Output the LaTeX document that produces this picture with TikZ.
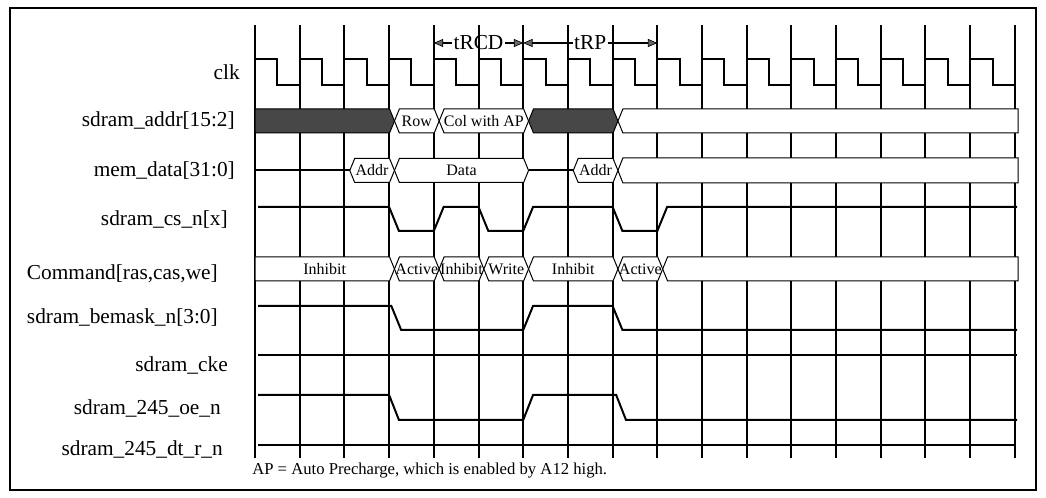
\documentclass[tikz,border=0pt]{standalone}
\usepackage{fontspec}
\setmainfont{Liberation Serif}
\usetikzlibrary{arrows.meta}

\begin{document}
\begin{tikzpicture}[x=33.525pt, y=-0.75pt,
  grid/.style={line width=1.5pt},
  sig/.style={line width=1.5pt, line join=miter},
  bus/.style={draw=black, line width=0.75pt, fill=#1}, bus/.default=white,
  bustext/.style={font=\fontsize{12}{14}\selectfont, inner sep=0pt},
  lbl/.style={anchor=east, font=\fontsize{16}{19}\selectfont, inner sep=0pt},
  dim/.style={line width=1pt, -{Triangle[length=7pt, width=6pt, line width=0.5pt, fill=black!60]}},
  dimtext/.style={font=\fontsize{16}{19}\selectfont, inner sep=1pt}]

\useasboundingbox (-5.705,0) rectangle (17.696,498);
\draw[line width=1.5pt] (-5.481,8) rectangle (17.472,490);

\foreach \i in {0,...,17} {
  \coordinate (gt\i) at (\i,25);
  \coordinate (gb\i) at (\i,458);
  \draw[grid] (gt\i) -- (gb\i);
}

% clk
\draw[sig] (0,59) \foreach \i in {0,...,16} {
  -- ({\i+0.5},59) -- ({\i+0.5},85) -- ({\i+1},85) -- ({\i+1},59)};

% buses
\draw[bus=black!72] (0,109) -- (3.01,109) -- (3.12,121) -- (3.01,133) -- (0,133) -- cycle;
\draw[bus=black!72] (6.12,121) -- (6.23,109) -- (8.01,109) -- (8.12,121) -- (8.01,133) -- (6.23,133) -- cycle;
\draw[bus] (8.12,121) -- (8.23,109) -- (17.07,109) -- (17.07,133) -- (8.23,133) -- cycle;
\draw[sig] (0,170.5) -- (2.12,170.5);
\draw[sig] (6.12,170.5) -- (7.12,170.5);
\draw[bus] (8.12,170.5) -- (8.23,158) -- (17.07,158) -- (17.07,183) -- (8.23,183) -- cycle;
\draw[bus] (0,257) -- (3.01,257) -- (3.12,269) -- (3.01,281) -- (0,281) -- cycle;
\node[bustext] (inha) at (1.56,269) {Inhibit};
\draw[bus] (9.12,269) -- (9.23,257) -- (17.07,257) -- (17.07,281) -- (9.23,281) -- cycle;

\foreach \a/\b/\ym/\t/\nm in {3/4/121/Row/row, 4/6/121/Col with AP/colap,
    2/3/170.5/Addr/addra, 3/6/170.5/Data/data, 7/8/170.5/Addr/addrb,
    3/4/269/Active/acta, 4/5/269/Inhibit/inhb, 5/6/269/Write/write,
    6/8/269/Inhibit/inhc, 8/9/269/Active/actb} {
  \draw[bus] ({\a+.12},\ym) -- ({\a+.23},{\ym-12}) -- ({\b+.01},{\ym-12}) -- ({\b+.12},\ym)
    -- ({\b+.01},{\ym+12}) -- ({\a+.23},{\ym+12}) -- cycle;
  \node[bustext] (\nm) at ({(\a+\b)/2+.12},\ym) {\t};
}

% single lines
\draw[sig] (0.07,207) -- (3,207) -- (3.22,231) -- (4,231) -- (4.22,207) -- (5,207) -- (5.22,231)
  -- (6,231) -- (6.22,207) -- (8,207) -- (8.22,231) -- (9,231) -- (9.22,207) -- (17.05,207);
\draw[sig] (0.07,306) -- (3.05,306) -- (3.27,330) -- (6,330) -- (6.22,306) -- (8,306) -- (8.22,330) -- (17.05,330);
\draw[sig] (0.07,355) -- (17.05,355);
\draw[sig] (0.07,395) -- (3,395) -- (3.22,420) -- (6,420) -- (6.22,395) -- (8.08,395) -- (8.3,420) -- (17.05,420);
\draw[sig] (0.07,445) -- (17,445);

\node[lbl] (clk) at (-0.336,72) {clk};
\node[lbl] (addr) at (-0.447,121) {sdram\_addr[15:2]};
\node[lbl] (memdata) at (-0.447,171) {mem\_data[31:0]};
\node[lbl] (csn) at (-0.604,220) {sdram\_cs\_n[x]};
\node[lbl] (cmd) at (-0.828,274) {Command[ras,cas,we]};
\node[lbl] (bemask) at (-0.828,318) {sdram\_bemask\_n[3:0]};
\node[lbl] (cke) at (-0.604,365) {sdram\_cke};
\node[lbl] (oen) at (-0.76,408) {sdram\_245\_oe\_n};
\node[lbl] (dtrn) at (-0.716,449) {sdram\_245\_dt\_r\_n};
\node[anchor=west, font=\fontsize{12.5}{15}\selectfont, inner sep=0pt] (note) at (-0.067,471)
  {AP = Auto Precharge, which is enabled by A12 high.};

\node[dimtext] (trcd) at (5,43) {tRCD};
\node[dimtext] (trp) at (7.5,43) {tRP};
\draw[dim] (trcd) -- (gt4 |- trcd);
\draw[dim] (trcd) -- (gt6 |- trcd);
\draw[dim] (trp) -- (gt6 |- trp);
\draw[dim] (trp) -- (gt9 |- trp);
\end{tikzpicture}
\end{document}
